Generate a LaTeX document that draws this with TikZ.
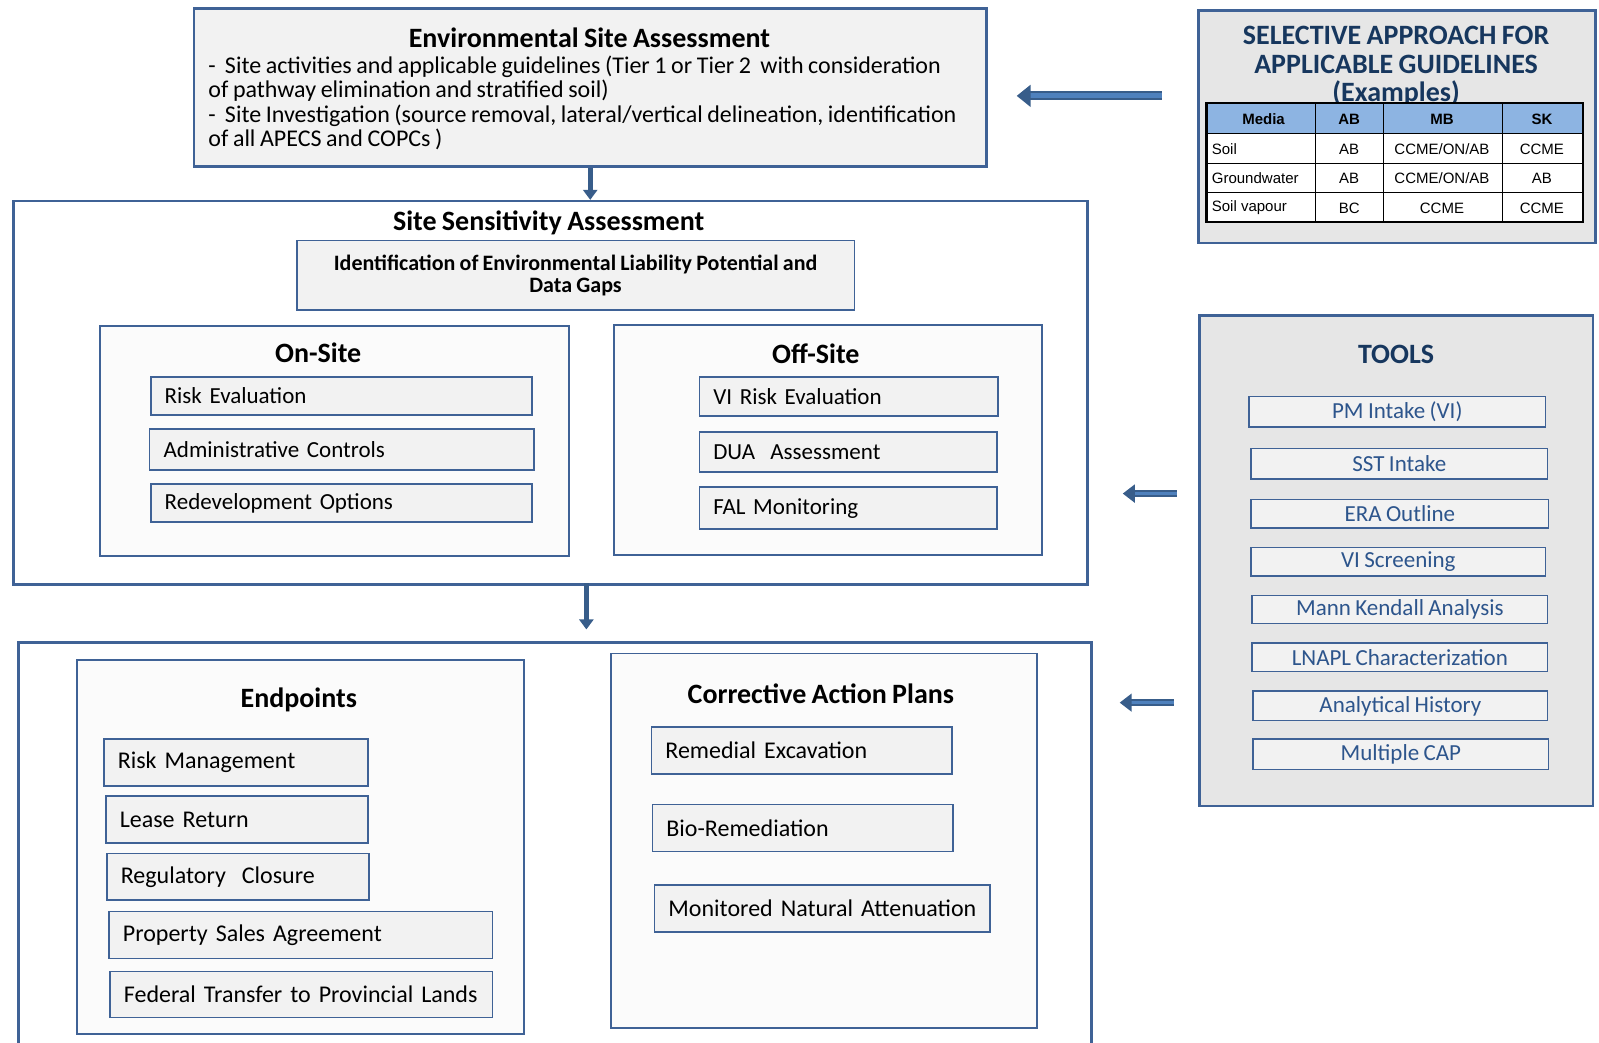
\documentclass[tikz,border=0pt]{standalone}
\usepackage{fontspec}
\setmainfont[WordSpace=0.85]{Carlito}
\newfontfamily\tabfont{Liberation Sans}
\usepackage{tikz}
\usetikzlibrary{arrows.meta}

\definecolor{bordc}{RGB}{63,98,150}
\definecolor{arrowdark}{RGB}{56,93,138}
\definecolor{arrowfill}{RGB}{79,129,189}
\definecolor{itemgray}{RGB}{242,242,242}
\definecolor{subgray}{RGB}{251,251,251}
\definecolor{panelgray}{RGB}{230,230,230}
\definecolor{navy}{RGB}{23,55,94}
\definecolor{toolblue}{RGB}{45,85,140}
\definecolor{headblue}{RGB}{141,180,226}

\begin{document}
\begin{tikzpicture}[x=0.51pt,y=-0.51pt,
  size/.style 2 args={minimum width=#1*0.51pt,minimum height=#2*0.51pt},
  panel/.style={draw=bordc,line width=1.3pt,inner sep=0pt,anchor=north west},
  sub/.style={draw=bordc,line width=0.9pt,fill=subgray,inner sep=0pt,anchor=north west},
  item/.style 2 args={draw=bordc,line width=0.8pt,fill=itemgray,anchor=north west,
    inner xsep=7pt,inner ysep=0pt,text width=#1*0.51pt-14pt,minimum height=#2*0.51pt,
    align=left,font=\fontsize{11.5}{13}\selectfont},
  tool/.style 2 args={draw=bordc,line width=0.7pt,fill=itemgray,anchor=north west,
    inner sep=0pt,size={#1}{#2},text=toolblue,font=\fontsize{11.5}{13}\selectfont},
  title/.style={font=\fontsize{14}{16}\selectfont\bfseries},
  cell/.style={font=\tabfont\fontsize{7.5}{9}\selectfont},
  downarrow/.style={draw=arrowdark,line width=2.4pt,-{Triangle[width=7pt,length=5pt]}},
  sidearrow/.style={draw=arrowdark,double=arrowfill,double distance=1.6pt,line width=0.9pt,
    -{Triangle[width=9pt,length=6pt]}},
  bigarrow/.style={draw=arrowdark,double=arrowfill,double distance=2.6pt,line width=1pt,
    -{Triangle[width=11pt,length=7pt]}}]

\useasboundingbox (0,0) rectangle (1568,1022);

% Environmental Site Assessment
\node[panel,fill=itemgray,size={777}{155}] (esa) at (189,7) {};
\node[title] (esat) at (578,37) {Environmental Site Assessment};
\node[anchor=north west,align=left,inner sep=0pt,font=\fontsize{12}{12.3}\selectfont] (esab) at (204,54)
  {-\ \ Site activities and applicable guidelines (Tier 1 or Tier 2\ \ with consideration\\
   of pathway elimination and stratified soil)\\
   -\ \ Site Investigation (source removal, lateral/vertical delineation, identification\\
   of all APECS and COPCs )};

% Site Sensitivity Assessment
\node[panel,fill=white,size={1053}{376}] (ssa) at (12,196) {};
\node[title] (ssat) at (538,219) {Site Sensitivity Assessment};
\node[draw=bordc,line width=0.9pt,fill=itemgray,anchor=north west,inner sep=0pt,size={547}{68},
  align=center,font=\fontsize{11}{11.2}\selectfont\bfseries] (ident) at (290,235)
  {Identification of Environmental Liability Potential and\\Data Gaps};

\node[sub,size={460}{225}] (onsite) at (97,319) {};
\node[title] (onsitet) at (312,346) {On-Site};
\node[item={374}{37}] (riskev) at (147,369) {Risk Evaluation};
\node[item={377}{40}] (admin) at (146,420) {Administrative Controls};
\node[item={374}{37}] (redev) at (147,474) {Redevelopment Options};

\node[sub,size={420}{225}] (offsite) at (601,318) {};
\node[title] (offsitet) at (800,347) {Off-Site};
\node[item={293}{38}] (virisk) at (685,369) {VI Risk Evaluation};
\node[item={292}{39}] (dua) at (685,423) {DUA\ \ Assessment};
\node[item={292}{41}] (fal) at (685,477) {FAL Monitoring};

% Endpoints and corrective action
\node[panel,fill=white,size={1052}{420}] (bottom) at (17,629) {};
\node[sub,size={438}{367}] (endp) at (75,646) {};
\node[title] (endpt) at (293,686) {Endpoints};
\node[item={259}{46},font=\fontsize{12}{14}\selectfont] (riskman) at (101,724) {Risk Management};
\node[item={257}{46},font=\fontsize{12}{14}\selectfont] (lease) at (103,780) {Lease Return};
\node[item={257}{46},font=\fontsize{12}{14}\selectfont] (regcl) at (104,836) {Regulatory\ \ Closure};
\node[item={376}{46},font=\fontsize{12}{14}\selectfont] (propsa) at (106,893) {Property Sales Agreement};
\node[item={375}{45},font=\fontsize{12}{14}\selectfont] (fedtr) at (107,952) {Federal Transfer to Provincial Lands};

\node[sub,size={418}{367}] (cap) at (598,640) {};
\node[title] (capt) at (805,680) {Corrective Action Plans};
\node[item={295}{46},font=\fontsize{12}{14}\selectfont] (remex) at (638,712) {Remedial Excavation};
\node[item={295}{46},font=\fontsize{12}{14}\selectfont] (biorem) at (639,788) {Bio-Remediation};
\node[item={329}{46},font=\fontsize{12}{14}\selectfont] (mna) at (641,867) {\mbox{Monitored Natural Attenuation}};

% Selective approach
\node[panel,fill=panelgray,size={389}{228}] (sel) at (1174,9) {};
\node[title,text=navy,align=center,font=\fontsize{14}{14.3}\selectfont\bfseries] (selt) at (1369,65)
  {SELECTIVE APPROACH FOR\\APPLICABLE GUIDELINES\\(Examples)};
\fill[headblue] (1183,101) rectangle (1552,131);
\fill[white] (1183,131) rectangle (1552,218);
\draw[line width=0.6pt] (1183,131) -- (1552,131);
\draw[line width=0.6pt] (1183,160) -- (1552,160);
\draw[line width=0.6pt] (1183,189) -- (1552,189);
\draw[line width=0.6pt] (1290,101) -- (1290,218);
\draw[line width=0.6pt] (1357,101) -- (1357,218);
\draw[line width=0.6pt] (1473,101) -- (1473,218);
\draw[line width=1.1pt] (1183,101) rectangle (1552,218);
\node[cell,font=\tabfont\fontsize{7.5}{9}\selectfont\bfseries] (h1) at (1239,117) {Media};
\node[cell,font=\tabfont\fontsize{7.5}{9}\selectfont\bfseries] (h2) at (1323,117) {AB};
\node[cell,font=\tabfont\fontsize{7.5}{9}\selectfont\bfseries] (h3) at (1414,117) {MB};
\node[cell,font=\tabfont\fontsize{7.5}{9}\selectfont\bfseries] (h4) at (1512,117) {SK};
\node[cell,anchor=west,inner sep=0pt] (r1) at (1188,146) {Soil};
\node[cell] (r1b) at (1323,146) {AB};
\node[cell] (r1c) at (1414,146) {CCME/ON/AB};
\node[cell] (r1d) at (1512,146) {CCME};
\node[cell,anchor=west,inner sep=0pt] (r2) at (1188,175) {Groundwater};
\node[cell] (r2b) at (1323,175) {AB};
\node[cell] (r2c) at (1414,175) {CCME/ON/AB};
\node[cell] (r2d) at (1512,175) {AB};
\node[cell,anchor=west,inner sep=0pt] (r3) at (1188,204) {Soil vapour};
\node[cell] (r3b) at (1323,204) {BC};
\node[cell] (r3c) at (1414,204) {CCME};
\node[cell] (r3d) at (1512,204) {CCME};

% Tools
\node[panel,fill=panelgray,size={386}{481}] (tools) at (1175,308) {};
\node[title,text=navy] (toolst) at (1369,348) {TOOLS};
\node[tool={291}{30}] (pm) at (1224,388) {PM Intake (VI)};
\node[tool={291}{30}] (sst) at (1226,439) {SST Intake};
\node[tool={292}{28}] (era) at (1226,489) {ERA Outline};
\node[tool={289}{28}] (vis) at (1226,536) {VI Screening};
\node[tool={290}{28}] (mk) at (1227,583) {Mann Kendall Analysis};
\node[tool={290}{28}] (lnapl) at (1227,630) {LNAPL Characterization};
\node[tool={289}{29}] (ah) at (1228,677) {Analytical History};
\node[tool={290}{30}] (mcap) at (1228,724) {Multiple CAP};

% arrows
\draw[downarrow] (esa.south) -- (esa.south |- ssa.north);
\draw[downarrow,shorten >=6pt] (575,572) coordinate (d2s) -- (d2s |- bottom.north);
\coordinate (a1s) at (1139,94);
\coordinate (a1e) at (997,94);
\coordinate (a2s) at (1154,484);
\coordinate (a2e) at (1101,484);
\coordinate (a3s) at (1151,689);
\coordinate (a3e) at (1098,689);
\draw[bigarrow] (a1s) -- (a1e);
\draw[sidearrow] (a2s) -- (a2e);
\draw[sidearrow] (a3s) -- (a3e);

\end{tikzpicture}
\end{document}
